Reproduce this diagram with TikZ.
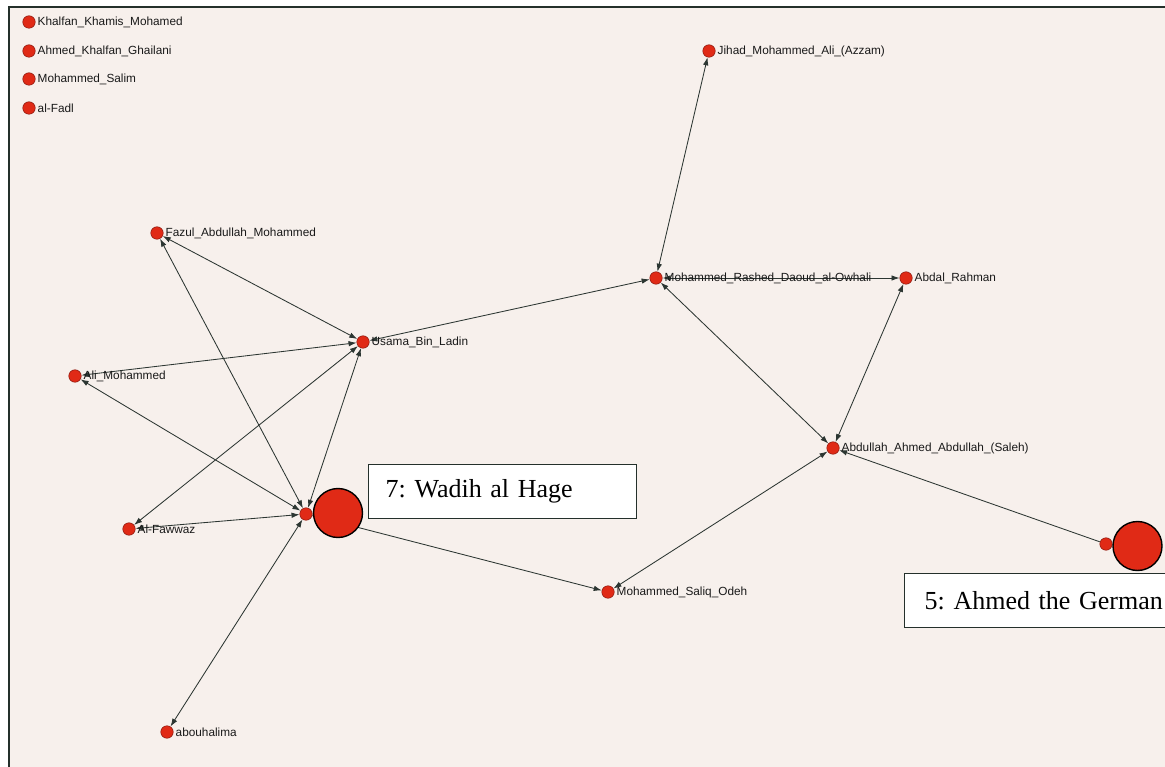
\documentclass[tikz,border=0pt]{standalone}
\usepackage{fontspec}
\setmainfont{Liberation Serif}
\newfontfamily\labelfont{Liberation Sans}
\usetikzlibrary{arrows.meta}
\frenchspacing
\definecolor{paper}{HTML}{F7F0EC}
\definecolor{dotred}{HTML}{E02A16}
\definecolor{dotrim}{HTML}{8A1A10}
\definecolor{edgegray}{HTML}{2C3632}
\definecolor{framegray}{HTML}{24302B}
\pgfdeclarelayer{paperlayer}
\pgfdeclarelayer{edges}
\pgfsetlayers{paperlayer,edges,main}
\tikzset{
  actor/.style={circle, fill=dotred, draw=dotrim, line width=0.5pt,
    inner sep=0pt, minimum size=12.5pt,
    label={[font=\labelfont\fontsize{11.8}{12}\selectfont, text=black!90,
      inner sep=1pt, label distance=1pt]right:#1}},
  hub/.style={circle, fill=dotred, draw=black, line width=1.4pt,
    inner sep=0pt, minimum size=49pt},
  tag/.style={draw=framegray, line width=1.3pt, fill=white, anchor=north west,
    font=\fontsize{26}{28}\selectfont, align=left, inner ysep=0pt},
  tie/.style={draw=edgegray, line width=0.85pt},
  both/.style={tie, {Latex[length=8pt,width=5.5pt]}-{Latex[length=8pt,width=5.5pt]}},
  one/.style={tie, -{Latex[length=8pt,width=5.5pt]}}
}
\begin{document}
\begin{tikzpicture}[x=1pt, y=-1pt]
\useasboundingbox (0,0) rectangle (1165,767);
\begin{pgfonlayer}{paperlayer}
\fill[white] (0,0) rectangle (1165,767);
\fill[paper] (9,7) rectangle (1165,767);
\draw[framegray, line width=2pt] (9,767) -- (9,7) -- (1165,7);
\end{pgfonlayer}

% isolated actors
\node[actor=Khalfan\_Khamis\_Mohamed] (khalfan) at (29,22) {};
\node[actor=Ahmed\_Khalfan\_Ghailani] (ghailani) at (29,51) {};
\node[actor=Mohammed\_Salim] (salim) at (29,79) {};
\node[actor=al-Fadl] (fadl) at (29,108) {};

% connected actors
\node[actor=Jihad\_Mohammed\_Ali\_(Azzam)] (jihad) at (709,51) {};
\node[actor=Fazul\_Abdullah\_Mohammed] (fazul) at (157,233) {};
\node[actor=Mohammed\_Rashed\_Daoud\_al-Owhali] (owhali) at (656,278) {};
\node[actor=Abdal\_Rahman] (abdal) at (906,278) {};
\node[actor=Usama\_Bin\_Ladin] (usama) at (363,342) {};
\node[actor=Ali\_Mohammed] (ali) at (75,376) {};
\node[actor=Abdullah\_Ahmed\_Abdullah\_(Saleh)] (abdullah) at (833,448) {};
\node[actor=Al-Fawwaz] (fawwaz) at (129,529) {};
\node[actor=Mohammed\_Saliq\_Odeh] (odeh) at (608,592) {};
\node[actor=abouhalima] (abou) at (167,732) {};
\node[circle, fill=dotred, draw=dotrim, line width=0.5pt, inner sep=0pt,
  minimum size=12.5pt] (wadih) at (306,514) {};
\node[circle, fill=dotred, draw=dotrim, line width=0.5pt, inner sep=0pt,
  minimum size=12.5pt] (german) at (1106,544) {};

% ties
\begin{pgfonlayer}{edges}
\draw[both] (fazul) -- (usama);
\draw[both] (fazul) -- (wadih);
\draw[both] (ali) -- (usama);
\draw[both] (ali) -- (wadih);
\draw[both] (usama) -- (fawwaz);
\draw[both] (usama) -- (wadih);
\draw[both] (fawwaz) -- (wadih);
\draw[both] (wadih) -- (abou);
\draw[both] (usama) -- (owhali);
\draw[both] (jihad) -- (owhali);
\draw[both] (owhali) -- (abdal);
\draw[both] (owhali) -- (abdullah);
\draw[both] (abdal) -- (abdullah);
\draw[one] (wadih) -- (odeh);
\draw[both] (odeh) -- (abdullah);
\draw[one] (german) -- (abdullah);
\end{pgfonlayer}

% highlighted actors and their tags
\node[hub] (wadihhub) at (338,513) {};
\node[hub] (germanhub) at (1137.5,546) {};
\node[tag, minimum height=54pt, inner xsep=17pt, text width=234pt]
  (wadihtag) at (368,464) {7: Wadih al Hage};
\node[tag, minimum height=54pt, inner xsep=20pt, text width=260pt]
  (germantag) at (904,573) {5: Ahmed the German};
\end{tikzpicture}
\end{document}
